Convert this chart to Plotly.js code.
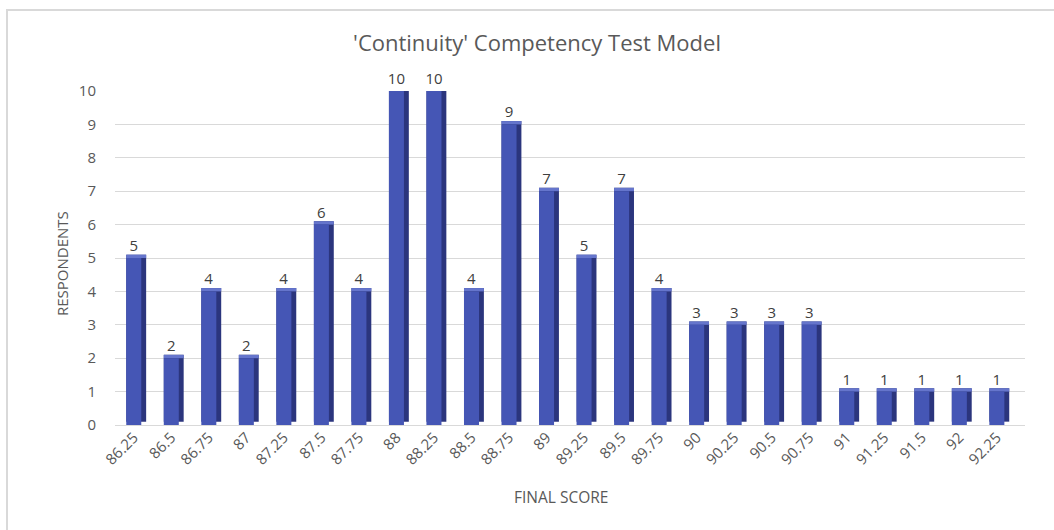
<!DOCTYPE html>
<html>
<head>
<meta charset="utf-8">
<script src="https://cdn.plot.ly/plotly-3.0.1.min.js"></script>
<style>
  html, body { margin: 0; padding: 0; background: #ffffff; overflow: hidden; }
  #wrap { position: relative; width: 1054px; height: 530px; }
  #chart { position: absolute; left: 0; top: 0; width: 1054px; height: 530px; }
  #frame { position: absolute; left: 6px; top: 9px; width: 1100px; height: 600px;
           border: 2px solid #d9d9d9; pointer-events: none; box-sizing: border-box; }
</style>
</head>
<body>
<div id="wrap">
  <div id="chart"></div>
  <div id="frame"></div>
</div>
<script>
// ---- data ----
const scores = ["86.25","86.5","86.75","87","87.25","87.5","87.75","88","88.25","88.5",
  "88.75","89","89.25","89.5","89.75","90","90.25","90.5","90.75","91","91.25","91.5","92","92.25"];
const respondents = [5,2,4,2,4,6,4,10,10,4,9,7,5,7,4,3,3,3,3,1,1,1,1,1];
const yTicks = [0,1,2,3,4,5,6,7,8,9,10];

// ---- styling ----
const FONT = "'Open Sans', 'Noto Sans', sans-serif";
const FRONT = "#4556B5", SIDE = "#2B357D", TOPC = "#6575CC";
const DEPTH = 0.1;

const sideTrace = {
  type: "bar", x: scores, y: respondents.map(v => v),
  base: respondents.map(() => DEPTH),
  offset: -0.2, width: 0.53,
  marker: { color: SIDE, line: { width: 0 } },
  hoverinfo: "skip", cliponaxis: false, showlegend: false
};
const topTrace = {
  type: "bar", x: scores, y: respondents.map(() => DEPTH),
  base: respondents.map(v => v),
  offset: -0.2, width: 0.53,
  marker: { color: TOPC, line: { width: 0 } },
  hoverinfo: "skip", cliponaxis: false, showlegend: false
};
const frontTrace = {
  type: "bar", x: scores, y: respondents,
  offset: -0.2, width: 0.4,
  marker: { color: FRONT, line: { width: 0 } },
  text: respondents.map(String), textposition: "outside", constraintext: "none",
  textfont: { family: FONT, size: 15, color: "#404040" },
  cliponaxis: false, showlegend: false
};

const layout = {
  width: 1054, height: 530,
  paper_bgcolor: "rgba(0,0,0,0)", plot_bgcolor: "rgba(0,0,0,0)",
  margin: { l: 115, r: 29, t: 91, b: 105 },
  barmode: "overlay",
  font: { family: FONT, color: "#595959" },
  title: {
    text: "'Continuity' Competency Test Model",
    font: { family: FONT, size: 22, color: "#595959" },
    x: 0.5095, xref: "container", xanchor: "center",
    y: 0.919, yref: "container", yanchor: "middle"
  },
  xaxis: {
    type: "category", categoryorder: "array", categoryarray: scores,
    range: [-0.5, 23.75],
    tickangle: -45, ticks: "", showgrid: false, showline: false, zeroline: false,
    tickfont: { family: FONT, size: 15, color: "#595959" }
  },
  yaxis: {
    range: [0, 10], tickvals: yTicks, ticks: "",
    showgrid: true, gridcolor: "#d9d9d9", gridwidth: 1,
    zeroline: true, zerolinecolor: "#d9d9d9", zerolinewidth: 1,
    showline: false, ticklabelstandoff: 18,
    tickfont: { family: FONT, size: 15, color: "#595959" }
  },
  annotations: [
    { text: "RESPONDENTS", xref: "paper", yref: "paper", x: 0, y: 0.5,
      xanchor: "center", yanchor: "middle", xshift: -53, yshift: -6, textangle: -90,
      showarrow: false, font: { family: FONT, size: 15, color: "#595959" } },
    { text: "FINAL SCORE", xref: "paper", yref: "paper", x: (561 - 115) / 910, y: 0,
      xanchor: "center", yanchor: "middle", yshift: -72,
      showarrow: false, font: { family: FONT, size: 15.5, color: "#595959" } }
  ]
};

Plotly.newPlot("chart", [sideTrace, topTrace, frontTrace], layout, { displayModeBar: false, staticPlot: true });
</script>
</body>
</html>
